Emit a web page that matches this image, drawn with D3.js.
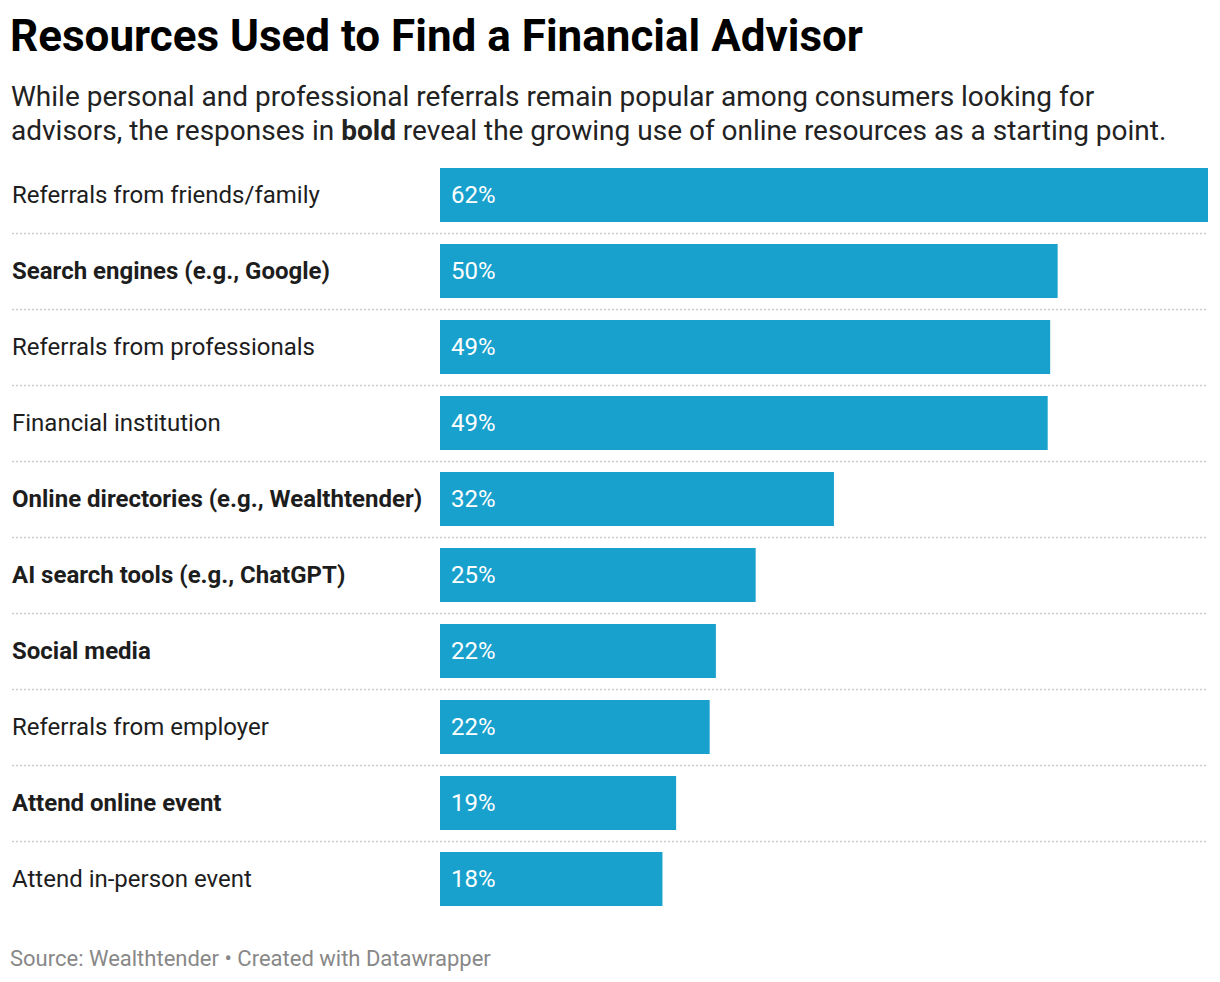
<!DOCTYPE html>
<html>
<head>
<meta charset="utf-8">
<script src="https://cdn.jsdelivr.net/npm/d3@7"></script>
<style>
  html, body { margin: 0; padding: 0; background: #fff; }
  svg { display: block; font-family: Roboto, "Noto Sans", sans-serif; }
</style>
</head>
<body>
<svg id="chart" width="1220" height="982"></svg>
<script>
const categories = [
  "Referrals from friends/family",
  "Search engines (e.g., Google)",
  "Referrals from professionals",
  "Financial institution",
  "Online directories (e.g., Wealthtender)",
  "AI search tools (e.g., ChatGPT)",
  "Social media",
  "Referrals from employer",
  "Attend online event",
  "Attend in-person event"
];
const values = [61.8, 49.7, 49.1, 48.9, 31.7, 25.4, 22.2, 21.7, 19.0, 17.9];
const boldFlags = [false, true, false, false, true, true, true, false, true, false];

const title = "Resources Used to Find a Financial Advisor";
const subtitleLine1 = "While personal and professional referrals remain popular among consumers looking for";
const source = "Source: Wealthtender • Created with Datawrapper";

const svg = d3.select("#chart");

svg.append("text")
  .attr("x", 10).attr("y", 51)
  .attr("font-size", 44).attr("font-weight", 700).attr("fill", "#000")
  .text(title);

svg.append("text")
  .attr("x", 11).attr("y", 106)
  .attr("font-size", 28).attr("fill", "#222")
  .text(subtitleLine1);

const sub2 = svg.append("text")
  .attr("x", 11).attr("y", 140)
  .attr("font-size", 28).attr("fill", "#222");
sub2.append("tspan").text("advisors, the responses in ");
sub2.append("tspan").attr("font-weight", 700).text("bold");
sub2.append("tspan").text(" reveal the growing use of online resources as a starting point.");

const x = d3.scaleLinear().domain([0, d3.max(values)]).range([440, 1208]);
const y = d3.scaleBand().domain(categories).range([157, 917])
  .paddingInner(22 / 76).paddingOuter(11 / 76);

// separators
svg.append("g").selectAll("line")
  .data(categories.slice(0, -1))
  .join("line")
  .attr("x1", 12).attr("x2", 1208)
  .attr("y1", d => y(d) - 11 + y.step() + 0.5)
  .attr("y2", d => y(d) - 11 + y.step() + 0.5)
  .attr("stroke", "#cccccc").attr("stroke-width", 1.5)
  .attr("stroke-dasharray", "2,2");

// bars
svg.append("g").selectAll("rect")
  .data(categories)
  .join("rect")
  .attr("x", x(0))
  .attr("y", d => y(d))
  .attr("width", (d, i) => x(values[i]) - x(0))
  .attr("height", y.bandwidth())
  .attr("fill", "#18a1cd");

// category labels
svg.append("g").selectAll("text")
  .data(categories)
  .join("text")
  .attr("x", 12)
  .attr("y", d => y(d) + y.bandwidth() / 2)
  .attr("dy", "0.35em")
  .attr("font-size", 24)
  .attr("font-weight", (d, i) => boldFlags[i] ? 700 : 400)
  .attr("fill", "#1d1d1d")
  .text(d => d);

// value labels
svg.append("g").selectAll("text")
  .data(categories)
  .join("text")
  .attr("x", x(0) + 11)
  .attr("y", d => y(d) + y.bandwidth() / 2)
  .attr("dy", "0.35em")
  .attr("font-size", 24)
  .attr("fill", "#fff")
  .text((d, i) => Math.round(values[i]) + "%");

svg.append("text")
  .attr("x", 10).attr("y", 966)
  .attr("font-size", 22).attr("fill", "#888")
  .text(source);
</script>
</body>
</html>
